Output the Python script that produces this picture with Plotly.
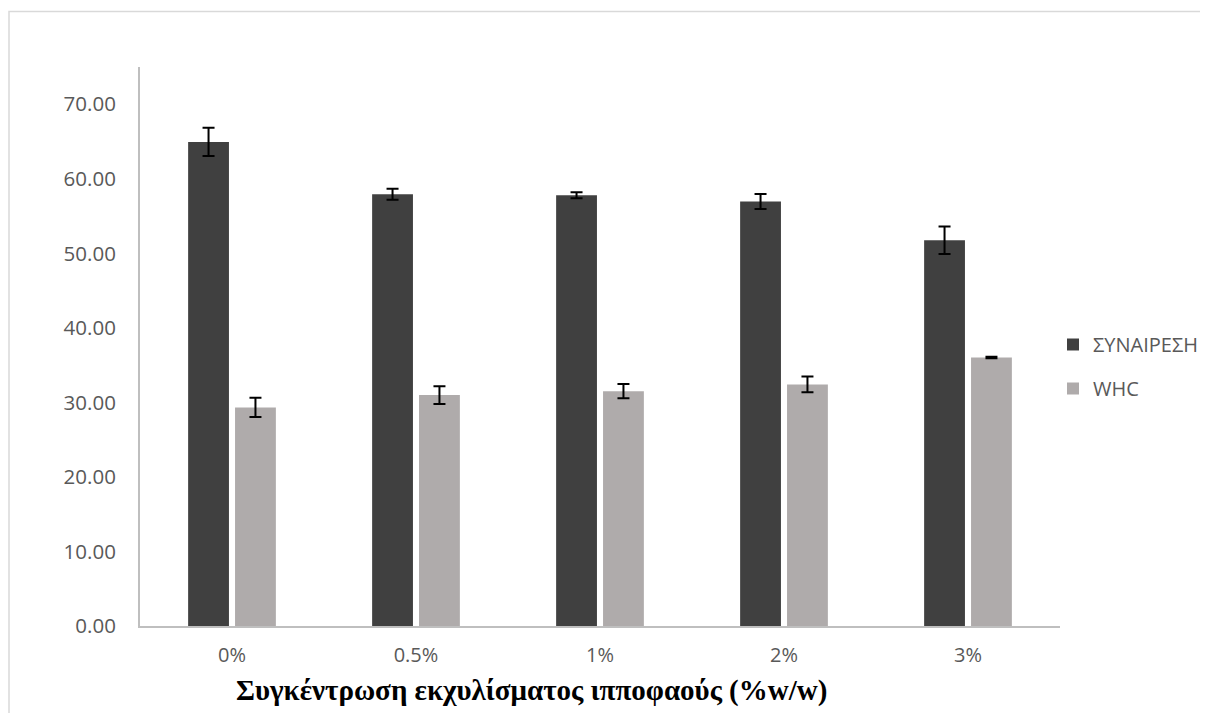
import plotly.graph_objects as go

categories = ["0%", "0.5%", "1%", "2%", "3%"]
syneresis = [64.95, 57.93, 57.8, 56.95, 51.76]
syneresis_err = [1.9, 0.75, 0.4, 1.0, 1.85]
whc = [29.33, 30.98, 31.51, 32.41, 36.03]
whc_err = [1.3, 1.2, 0.95, 1.05, 0.1]
y_ticks = [0, 10, 20, 30, 40, 50, 60, 70]
y_tick_labels = [f"{v:.2f}" for v in y_ticks]

OFF = 8  # page body margin
W, H = 1200, 705
L, T = 140 - OFF, 67 - OFF
R = W - (1060 - OFF)
B = H - (626 - OFF)
pw, ph = W - L - R, H - T - B


def px_x(p):
    return (p - OFF - L) / pw


def px_y(p):
    return (H - B - (p - OFF)) / ph


fig = go.Figure()
err_style = dict(type="data", thickness=2, width=6, color="black", visible=True)
fig.add_trace(go.Bar(
    x=categories, y=syneresis, name="ΣΥΝΑΙΡΕΣΗ",
    marker=dict(color="#404040", line=dict(width=0)),
    error_y=dict(array=syneresis_err, **err_style),
    legendgroup="a",
))
fig.add_trace(go.Bar(
    x=categories, y=whc, name="WHC",
    marker=dict(color="#AFABAB", line=dict(width=0)),
    error_y=dict(array=whc_err, **err_style),
    legendgroup="b",
))

fig.update_layout(
    width=W, height=H,
    margin=dict(l=L, r=R, t=T, b=B, autoexpand=False),
    paper_bgcolor="white", plot_bgcolor="white",
    barmode="group", bargap=0.49, bargroupgap=0.13,
    font=dict(family="Open Sans", size=20, color="#595959"),
    showlegend=True,
    legend=dict(
        x=px_x(1053), y=px_y(325), xanchor="left", yanchor="top",
        font=dict(family="Open Sans", size=20, color="#595959"),
        tracegroupgap=15, bgcolor="rgba(0,0,0,0)",
    ),
    xaxis=dict(
        showline=True, linecolor="#BFBFBF", linewidth=2,
        showgrid=False, ticks="", ticklabelstandoff=10,
        tickfont=dict(family="Open Sans", size=20, color="#595959"),
    ),
    yaxis=dict(
        range=[0, 75], tickvals=y_ticks, ticktext=y_tick_labels,
        showline=True, linecolor="#BFBFBF", linewidth=2,
        showgrid=False, zeroline=False, ticks="", ticklabelstandoff=18,
        tickfont=dict(family="Open Sans", size=20.5, color="#595959"),
    ),
    shapes=[dict(
        type="rect", xref="paper", yref="paper",
        x0=px_x(OFF + 1), x1=px_x(1230),
        y0=px_y(740), y1=px_y(11.5),
        line=dict(color="#D9D9D9", width=1.5), fillcolor="rgba(0,0,0,0)",
        layer="below",
    )],
    annotations=[dict(
        text="<b>Συγκέντρωση εκχυλίσματος ιπποφαούς (%w/w)</b>",
        xref="paper", yref="paper",
        x=px_x(531), y=px_y(690),
        xanchor="center", yanchor="middle", showarrow=False,
        font=dict(family="Liberation Serif", size=29, color="black"),
    )],
)

fig.write_html("out.html")
